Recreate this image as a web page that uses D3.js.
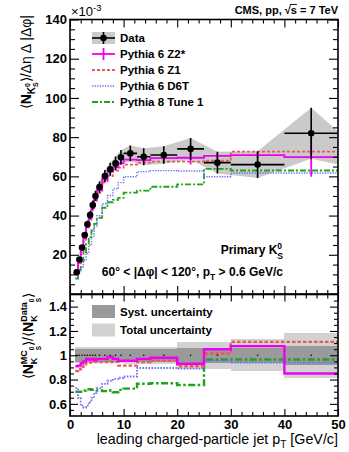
<!DOCTYPE html>
<html>
<head>
<meta charset="utf-8">
<script src="https://cdnjs.cloudflare.com/ajax/libs/d3/7.8.5/d3.min.js"></script>
<style>
  body { margin: 0; background: #fff; }
  svg text { white-space: pre; }
</style>
</head>
<body>
<svg id="chart"></svg>
<script>
// bins of leading charged-particle jet pT [GeV/c]
const binEdges = [1, 1.5, 2, 2.5, 3, 3.5, 4, 4.5, 5, 6, 7, 8, 9, 10, 12.5, 15, 20, 25, 30, 40, 50];

// top panel, units of 1e-3
const dataVal = [11.1, 17.6, 23.7, 30.1, 35.6, 40.3, 45.4, 50.0, 54.6, 60.2, 63.6, 66.6, 69.7, 71.7, 70.0, 70.9, 74.0, 67.0, 66.0, 82.0];
const dataErr = [0.6, 0.9, 1.2, 1.5, 1.8, 2.0, 2.3, 2.6, 2.8, 3.1, 3.3, 3.5, 3.7, 4.0, 4.3, 4.5, 5.5, 5.5, 6.8, 13.0];
const bandEnd = [50, 66, 83]; // last band vertex: x, lo, hi

const z2Val = [10.1, 16.1, 22.2, 28.6, 34.5, 38.9, 44.0, 48.0, 53.0, 58.4, 62.6, 64.6, 66.6, 68.5, 68.3, 69.3, 69.5, 70.4, 70.8, 69.8];
const z2Err = [0.2, 0.2, 0.3, 0.3, 0.3, 0.4, 0.4, 0.4, 0.4, 0.5, 0.5, 0.6, 0.6, 0.6, 0.8, 0.8, 3.5, 1.2, 1.5, 10];
const z1Val = [9.7, 15.6, 21.4, 27.8, 33.3, 37.9, 42.7, 47.2, 51.6, 56.9, 60.1, 62.9, 64.5, 66.0, 67.0, 67.5, 67.5, 68.0, 72.6, 72.6];
const d6tVal = [8.1, 11.4, 13.9, 17.2, 20.8, 24.8, 29.5, 34.5, 39.9, 46.0, 50.2, 53.6, 56.8, 59.8, 62.4, 62.9, 62.7, 59.8, 61.7, 61.7];
const p8Val = [7.8, 12.3, 16.6, 21.4, 25.6, 29.0, 32.5, 35.8, 38.8, 44.0, 46.8, 48.0, 49.0, 51.7, 52.7, 54.7, 55.9, 63.8, 63.0, 63.0];

// bottom panel, MC / data
const z2Ratio = [0.91, 0.915, 0.935, 0.95, 0.97, 0.965, 0.97, 0.96, 0.97, 0.97, 0.985, 0.97, 0.955, 0.955, 0.97, 0.98, 0.93, 1.05, 1.075, 0.85];
const z1Ratio = [0.87, 0.885, 0.905, 0.925, 0.935, 0.94, 0.94, 0.945, 0.945, 0.945, 0.945, 0.945, 0.915, 0.915, 0.945, 0.955, 0.91, 1.015, 1.11, 1.11];
const d6tRatio = [0.73, 0.65, 0.585, 0.57, 0.585, 0.615, 0.65, 0.69, 0.73, 0.765, 0.79, 0.805, 0.815, 0.825, 0.895, 0.895, 0.89, 0.955, 0.94, 0.94];
const p8Ratio = [0.70, 0.70, 0.70, 0.71, 0.72, 0.72, 0.715, 0.715, 0.71, 0.705, 0.71, 0.695, 0.715, 0.725, 0.765, 0.77, 0.755, 0.965, 0.965, 0.965];
const systRel = [0.055, 0.055, 0.055, 0.055, 0.055, 0.055, 0.055, 0.055, 0.055, 0.055, 0.055, 0.055, 0.055, 0.055, 0.055, 0.055, 0.06, 0.06, 0.06, 0.08];
const totalRel = [0.065, 0.065, 0.065, 0.065, 0.065, 0.065, 0.065, 0.065, 0.065, 0.065, 0.065, 0.065, 0.065, 0.07, 0.07, 0.07, 0.11, 0.11, 0.13, 0.185];

const xTicks = [0, 10, 20, 30, 40, 50];
const yTopTicks = [20, 40, 60, 80, 100, 120, 140];
const yBotTicks = [0.6, 0.8, 1, 1.2, 1.4];

const FONT = "'Liberation Sans', Arial, Helvetica, sans-serif";
const W = 349, H = 452;

const svg = d3.select("#chart").attr("width", W).attr("height", H)
    .style("font-family", FONT);

const x = d3.scaleLinear().domain([0, 50]).range([70, 338]);
const yTop = d3.scaleLinear().domain([0, 140]).range([294, 19.5]);
const yBot = d3.scaleLinear().domain([0.5, 1.5]).range([416, 294.5]);

const centers = dataVal.map((d, i) => (binEdges[i] + binEdges[i + 1]) / 2);

function stepPath(vals, y) {
    let pts = vals.map((v, i) => [binEdges[i], v]);
    pts.push([binEdges[vals.length], vals[vals.length - 1]]);
    return d3.line().x(d => x(d[0])).y(d => y(d[1])).curve(d3.curveStepAfter)(pts);
}

// draw text pieces side by side (sub/superscripts), stack=true puts it under the previous piece
function rich(parent, parts, anchor) {
    let g = parent.append("g");
    let pos = 0, start = 0, w0 = 0;
    parts.forEach(function (p) {
        let el = g.append("text")
            .attr("xml:space", "preserve")
            .attr("y", p.dy || 0)
            .attr("font-size", p.fs)
            .attr("font-weight", p.bold ? "bold" : "normal")
            .text(p.t);
        let w = el.node().getComputedTextLength();
        let x0;
        if (p.stack) {
            x0 = start;
            pos = start + Math.max(w0, w);
        } else {
            x0 = pos;
            start = pos; w0 = w;
            pos += w;
        }
        el.attr("x", x0);
        if (p.over) {
            let yy = (p.dy || 0) - p.fs * 0.82;
            g.append("line").attr("x1", x0 - 1).attr("x2", x0 + w)
                .attr("y1", yy).attr("y2", yy)
                .attr("stroke", "#000").attr("stroke-width", 0.9);
        }
    });
    if (anchor === "end") g.attr("transform", "translate(" + (-pos) + ",0)");
    return g;
}

function ticks(gen, tx, ty, vals, size, fmt, pad) {
    let a = gen.tickValues(vals).tickSizeInner(-size).tickSizeOuter(0).tickPadding(pad || 3)
        .tickFormat(fmt || (() => ""));
    let sel = svg.append("g").attr("transform", "translate(" + tx + "," + ty + ")").call(a);
    sel.select(".domain").remove();
    sel.selectAll("line").attr("stroke", "#000").attr("stroke-width", 1.1);
    sel.selectAll("text")
        .attr("font-size", 13)
        .attr("font-weight", "bold")
        .attr("font-family", FONT)
        .attr("fill", "#000");
}

const colZ2 = "#f000f0", colZ1 = "#e65a5a", colD6T = "#6b6bf5", colP8 = "#1fa31f";

// ---------- top panel ----------
svg.append("clipPath").attr("id", "clipTop").append("rect")
    .attr("x", 70).attr("y", 19.5).attr("width", 268).attr("height", 274.5);
let gTop = svg.append("g").attr("clip-path", "url(#clipTop)");

let band = centers.map((c, i) => ({ x: c, lo: dataVal[i] - dataErr[i], hi: dataVal[i] + dataErr[i] }));
band.push({ x: bandEnd[0], lo: bandEnd[1], hi: bandEnd[2] });
gTop.append("path")
    .attr("d", d3.area().x(d => x(d.x)).y0(d => yTop(d.lo)).y1(d => yTop(d.hi))(band))
    .attr("fill", "#cacaca");

gTop.append("path").attr("d", stepPath(p8Val, yTop)).attr("fill", "none")
    .attr("stroke", colP8).attr("stroke-width", 1.8).attr("stroke-dasharray", "6,2,2,2");
gTop.append("path").attr("d", stepPath(d6tVal, yTop)).attr("fill", "none")
    .attr("stroke", colD6T).attr("stroke-width", 1.4).attr("stroke-dasharray", "1.3,1.3");
gTop.append("path").attr("d", stepPath(z1Val, yTop)).attr("fill", "none")
    .attr("stroke", colZ1).attr("stroke-width", 1.8).attr("stroke-dasharray", "3,2");
gTop.append("path").attr("d", stepPath(z2Val, yTop)).attr("fill", "none")
    .attr("stroke", colZ2).attr("stroke-width", 1.8);
gTop.selectAll(".z2err").data(z2Val).enter().append("line")
    .attr("x1", (d, i) => x(centers[i])).attr("x2", (d, i) => x(centers[i]))
    .attr("y1", (d, i) => yTop(d - z2Err[i])).attr("y2", (d, i) => yTop(d + z2Err[i]))
    .attr("stroke", colZ2).attr("stroke-width", 1.8);

// data
gTop.selectAll(".xerr").data(dataVal).enter().append("line")
    .attr("x1", (d, i) => x(binEdges[i])).attr("x2", (d, i) => x(binEdges[i + 1]))
    .attr("y1", d => yTop(d)).attr("y2", d => yTop(d))
    .attr("stroke", "#000").attr("stroke-width", 1.6);
gTop.selectAll(".yerr").data(dataVal).enter().append("line")
    .attr("x1", (d, i) => x(centers[i])).attr("x2", (d, i) => x(centers[i]))
    .attr("y1", (d, i) => yTop(d - dataErr[i])).attr("y2", (d, i) => yTop(d + dataErr[i]))
    .attr("stroke", "#000").attr("stroke-width", 1.6);
gTop.selectAll(".pt").data(dataVal).enter().append("circle")
    .attr("cx", (d, i) => x(centers[i])).attr("cy", d => yTop(d))
    .attr("r", 3.3).attr("fill", "#000");

// ---------- bottom panel ----------
svg.append("clipPath").attr("id", "clipBot").append("rect")
    .attr("x", 70).attr("y", 294.5).attr("width", 268).attr("height", 121.5);
let gBot = svg.append("g").attr("clip-path", "url(#clipBot)");

gBot.selectAll(".tot").data(totalRel).enter().append("rect")
    .attr("x", (d, i) => x(binEdges[i])).attr("width", (d, i) => x(binEdges[i + 1]) - x(binEdges[i]))
    .attr("y", d => yBot(1 + d)).attr("height", d => yBot(1 - d) - yBot(1 + d))
    .attr("fill", "#d2d2d2").attr("shape-rendering", "crispEdges");
gBot.selectAll(".sys").data(systRel).enter().append("rect")
    .attr("x", (d, i) => x(binEdges[i])).attr("width", (d, i) => x(binEdges[i + 1]) - x(binEdges[i]))
    .attr("y", d => yBot(1 + d)).attr("height", d => yBot(1 - d) - yBot(1 + d))
    .attr("fill", "#9a9a9a").attr("shape-rendering", "crispEdges");

gBot.append("path").attr("d", stepPath(p8Ratio, yBot)).attr("fill", "none")
    .attr("stroke", colP8).attr("stroke-width", 2.4).attr("stroke-dasharray", "7,2.5,2.5,2.5");
gBot.append("path").attr("d", stepPath(d6tRatio, yBot)).attr("fill", "none")
    .attr("stroke", colD6T).attr("stroke-width", 1.8).attr("stroke-dasharray", "1.5,1.5");
gBot.append("path").attr("d", stepPath(z1Ratio, yBot)).attr("fill", "none")
    .attr("stroke", colZ1).attr("stroke-width", 2.4).attr("stroke-dasharray", "3.5,2");
gBot.append("path").attr("d", stepPath(z2Ratio, yBot)).attr("fill", "none")
    .attr("stroke", colZ2).attr("stroke-width", 2.4);
gBot.selectAll(".rpt").data(centers).enter().append("circle")
    .attr("cx", d => x(d)).attr("cy", yBot(1)).attr("r", 0.8).attr("fill", "#000");

// ---------- axes ----------
const minorX = d3.range(0, 51, 2).filter(v => v % 10 !== 0);
ticks(d3.axisBottom(x), 0, 294, xTicks, 8);
ticks(d3.axisBottom(x), 0, 294, minorX, 4);
ticks(d3.axisTop(x), 0, 19.5, xTicks, 8);
ticks(d3.axisTop(x), 0, 19.5, minorX, 4);
ticks(d3.axisBottom(x), 0, 416, xTicks, 7, d => d, 3.5);
ticks(d3.axisBottom(x), 0, 416, minorX, 4);
ticks(d3.axisTop(x), 0, 294.5, xTicks, 7);
ticks(d3.axisTop(x), 0, 294.5, minorX, 4);

const minorYTop = d3.range(5, 140, 5).filter(v => v % 20 !== 0);
ticks(d3.axisLeft(yTop), 70, 0, yTopTicks, 9, d => d);
ticks(d3.axisLeft(yTop), 70, 0, minorYTop, 5);
ticks(d3.axisRight(yTop), 338, 0, yTopTicks, 9);
ticks(d3.axisRight(yTop), 338, 0, minorYTop, 5);

const minorYBot = d3.range(0.55, 1.5, 0.05).filter(v => Math.abs(v * 5 - Math.round(v * 5)) > 0.01);
ticks(d3.axisLeft(yBot), 70, 0, yBotTicks, 8, d => d === 1 ? "1" : d.toFixed(1));
ticks(d3.axisLeft(yBot), 70, 0, minorYBot, 4);
ticks(d3.axisRight(yBot), 338, 0, yBotTicks, 8);
ticks(d3.axisRight(yBot), 338, 0, minorYBot, 4);

// frames
svg.append("rect").attr("x", 70).attr("y", 19.5).attr("width", 268).attr("height", 274.5)
    .attr("fill", "none").attr("stroke", "#000").attr("stroke-width", 1.6);
svg.append("rect").attr("x", 70).attr("y", 294.5).attr("width", 268).attr("height", 121.5)
    .attr("fill", "none").attr("stroke", "#000").attr("stroke-width", 1.6);

// ---------- texts ----------
let t;
t = svg.append("g").attr("transform", "translate(338,13.5)");
rich(t, [{ t: "CMS, pp, ", fs: 11, bold: true }, { t: "√", fs: 11, bold: true },
         { t: "s", fs: 11, bold: true, over: true }, { t: " = 7 TeV", fs: 11, bold: true }], "end");

t = svg.append("g").attr("transform", "translate(71,16)");
rich(t, [{ t: "×10", fs: 13 }, { t: "-3", fs: 9.5, dy: -5.5 }], "start");

t = svg.append("g").attr("transform", "translate(31,15) rotate(-90)");
rich(t, [{ t: "⟨", fs: 14 }, { t: "N", fs: 14, bold: true }, { t: "K", fs: 10, bold: true, dy: 3.5 },
         { t: "0", fs: 7, bold: true, dy: -1 }, { t: "S", fs: 7, bold: true, dy: 7, stack: true },
         { t: "⟩/Δη Δ |Δφ|", fs: 14 }], "end");

t = svg.append("g").attr("transform", "translate(33,293) rotate(-90)");
rich(t, [{ t: "⟨", fs: 14 }, { t: "N", fs: 14, bold: true },
         { t: "MC", fs: 9, bold: true, dy: -6.5 }, { t: "K", fs: 9, bold: true, dy: 4, stack: true },
         { t: "0", fs: 6.5, bold: true, dy: 0.5 }, { t: "S", fs: 6.5, bold: true, dy: 7.5, stack: true },
         { t: "⟩/⟨", fs: 14 }, { t: "N", fs: 14, bold: true },
         { t: "Data", fs: 9, bold: true, dy: -6.5 }, { t: "K", fs: 9, bold: true, dy: 4, stack: true },
         { t: "0", fs: 6.5, bold: true, dy: 0.5 }, { t: "S", fs: 6.5, bold: true, dy: 7.5, stack: true },
         { t: "⟩", fs: 14 }], "end");

t = svg.append("g").attr("transform", "translate(338,444)");
rich(t, [{ t: "leading charged-particle jet p", fs: 14.3 }, { t: "T", fs: 10, dy: 4 },
         { t: " [GeV/c]", fs: 14.3 }], "end");

t = svg.append("g").attr("transform", "translate(283,254)");
rich(t, [{ t: "Primary K", fs: 12, bold: true }, { t: "0", fs: 8.5, bold: true, dy: -5 },
         { t: "S", fs: 8.5, bold: true, dy: 5, stack: true }], "end");

t = svg.append("g").attr("transform", "translate(283,276)");
rich(t, [{ t: "60° < |Δφ| < 120°, p", fs: 12, bold: true }, { t: "T", fs: 8.5, bold: true, dy: 4 },
         { t: " > 0.6 GeV/c", fs: 12, bold: true }], "end");

// legend top
const legNames = ["Data", "Pythia 6 Z2*", "Pythia 6 Z1", "Pythia 6 D6T", "Pythia 8 Tune 1"];
const legY = [38, 54, 70, 86, 102];
let leg = svg.append("g");
leg.append("rect").attr("x", 92).attr("y", legY[0] - 6).attr("width", 23).attr("height", 12).attr("fill", "#cacaca");
leg.append("line").attr("x1", 92).attr("x2", 115).attr("y1", legY[0]).attr("y2", legY[0]).attr("stroke", "#000").attr("stroke-width", 1.6);
leg.append("line").attr("x1", 103.5).attr("x2", 103.5).attr("y1", legY[0] - 6).attr("y2", legY[0] + 6).attr("stroke", "#000").attr("stroke-width", 1.6);
leg.append("circle").attr("cx", 103.5).attr("cy", legY[0]).attr("r", 3.3).attr("fill", "#000");
leg.append("line").attr("x1", 92).attr("x2", 115).attr("y1", legY[1]).attr("y2", legY[1]).attr("stroke", colZ2).attr("stroke-width", 1.8);
leg.append("line").attr("x1", 103.5).attr("x2", 103.5).attr("y1", legY[1] - 6).attr("y2", legY[1] + 6).attr("stroke", colZ2).attr("stroke-width", 1.8);
leg.append("line").attr("x1", 92).attr("x2", 115).attr("y1", legY[2]).attr("y2", legY[2]).attr("stroke", colZ1).attr("stroke-width", 1.8).attr("stroke-dasharray", "3,2");
leg.append("line").attr("x1", 92).attr("x2", 115).attr("y1", legY[3]).attr("y2", legY[3]).attr("stroke", colD6T).attr("stroke-width", 1.4).attr("stroke-dasharray", "1.3,1.3");
leg.append("line").attr("x1", 92).attr("x2", 115).attr("y1", legY[4]).attr("y2", legY[4]).attr("stroke", colP8).attr("stroke-width", 1.8).attr("stroke-dasharray", "6,2,2,2");
leg.selectAll(".lt").data(legNames).enter().append("text")
    .attr("x", 120).attr("y", (d, i) => legY[i] + 4.2)
    .attr("font-size", 11.5).attr("font-weight", "bold").text(d => d);

// legend bottom
const bandNames = ["Syst. uncertainty", "Total uncertainty"];
const bandCols = ["#9a9a9a", "#d2d2d2"];
const bandY = [311.5, 330];
svg.selectAll(".bb").data(bandNames).enter().append("rect")
    .attr("x", 92).attr("y", (d, i) => bandY[i] - 6.5).attr("width", 23).attr("height", 13)
    .attr("fill", (d, i) => bandCols[i]);
svg.selectAll(".bt").data(bandNames).enter().append("text")
    .attr("x", 120).attr("y", (d, i) => bandY[i] + 4.2)
    .attr("font-size", 11.5).attr("font-weight", "bold").text(d => d);
</script>
</body>
</html>
